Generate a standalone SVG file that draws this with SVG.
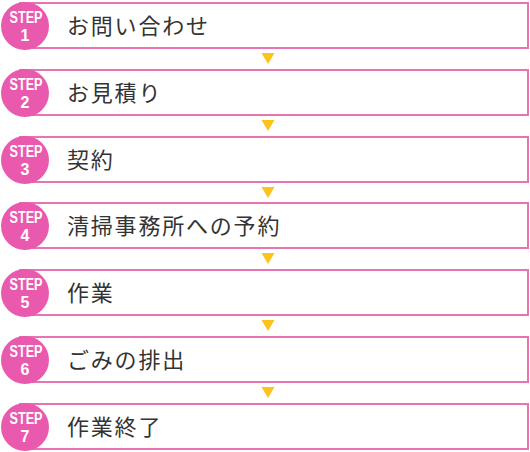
<svg xmlns="http://www.w3.org/2000/svg" width="530" height="452" viewBox="0 0 530 452">
<defs>
<style>
.box{fill:#fff;stroke:#e773b5;stroke-width:2}
.badge{fill:#e95aae}
.step{font-family:"Liberation Sans",Arial,sans-serif;font-weight:bold;font-size:16px;fill:#fff;text-anchor:middle}
.num{font-family:"Liberation Sans",Arial,sans-serif;font-weight:bold;font-size:16px;fill:#fff;text-anchor:middle}
.lbl{font-family:"Noto Sans CJK JP","Noto Sans CJK SC",sans-serif;font-size:22px;fill:#333;letter-spacing:1.8px}
.arr{fill:#fcc31c}
</style>
</defs>
<g id="connectors">
<polygon class="arr" points="261.5,53 274.5,53 268,64"/>
<polygon class="arr" points="261.5,120 274.5,120 268,131"/>
<polygon class="arr" points="261.5,187 274.5,187 268,198"/>
<polygon class="arr" points="261.5,253 274.5,253 268,264"/>
<polygon class="arr" points="261.5,320 274.5,320 268,331"/>
<polygon class="arr" points="261.5,387 274.5,387 268,398"/>
</g>
<g id="step1">
<rect class="box" x="20" y="3" width="508" height="45"/>
<circle class="badge" cx="25" cy="26" r="24"/>
<text class="step" x="26" y="23" textLength="33" lengthAdjust="spacingAndGlyphs">STEP</text>
<text class="num" x="25" y="41">1</text>
<text class="lbl" x="67" y="34">お問い合わせ</text>
</g>
<g id="step2">
<rect class="box" x="20" y="70" width="508" height="45"/>
<circle class="badge" cx="25" cy="93" r="24"/>
<text class="step" x="26" y="90" textLength="33" lengthAdjust="spacingAndGlyphs">STEP</text>
<text class="num" x="25" y="108">2</text>
<text class="lbl" x="67" y="101">お見積り</text>
</g>
<g id="step3">
<rect class="box" x="20" y="137" width="508" height="45"/>
<circle class="badge" cx="25" cy="160" r="24"/>
<text class="step" x="26" y="157" textLength="33" lengthAdjust="spacingAndGlyphs">STEP</text>
<text class="num" x="25" y="175">3</text>
<text class="lbl" x="67" y="168">契約</text>
</g>
<g id="step4">
<rect class="box" x="20" y="203" width="508" height="45"/>
<circle class="badge" cx="25" cy="226" r="24"/>
<text class="step" x="26" y="223" textLength="33" lengthAdjust="spacingAndGlyphs">STEP</text>
<text class="num" x="25" y="241">4</text>
<text class="lbl" x="67" y="234">清掃事務所への予約</text>
</g>
<g id="step5">
<rect class="box" x="20" y="270" width="508" height="45"/>
<circle class="badge" cx="25" cy="293" r="24"/>
<text class="step" x="26" y="290" textLength="33" lengthAdjust="spacingAndGlyphs">STEP</text>
<text class="num" x="25" y="308">5</text>
<text class="lbl" x="67" y="301">作業</text>
</g>
<g id="step6">
<rect class="box" x="20" y="337" width="508" height="45"/>
<circle class="badge" cx="25" cy="360" r="24"/>
<text class="step" x="26" y="357" textLength="33" lengthAdjust="spacingAndGlyphs">STEP</text>
<text class="num" x="25" y="375">6</text>
<text class="lbl" x="67" y="368">ごみの排出</text>
</g>
<g id="step7">
<rect class="box" x="20" y="404" width="508" height="45"/>
<circle class="badge" cx="25" cy="427" r="24"/>
<text class="step" x="26" y="424" textLength="33" lengthAdjust="spacingAndGlyphs">STEP</text>
<text class="num" x="25" y="442">7</text>
<text class="lbl" x="67" y="435">作業終了</text>
</g>
</svg>
